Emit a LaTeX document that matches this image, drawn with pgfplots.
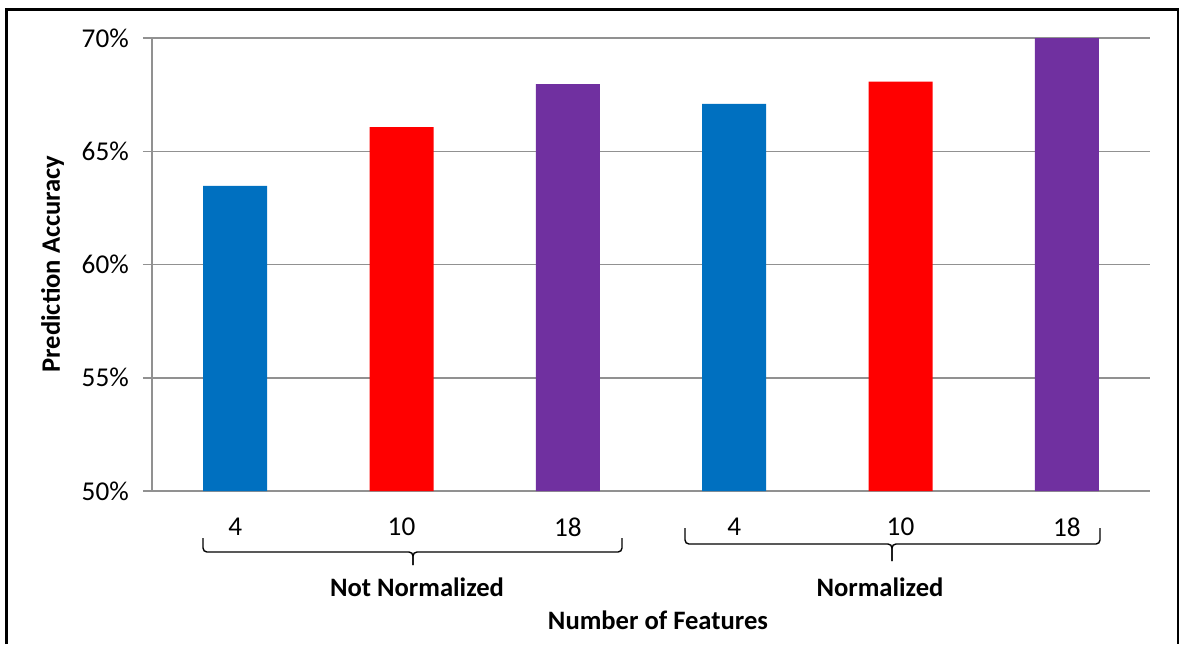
\documentclass[border=0pt]{standalone}
\usepackage{pgfplots}
\pgfplotsset{compat=1.18}
\usepackage{fontspec}
\setmainfont{Carlito}
\definecolor{barblue}{RGB}{0,112,192}
\definecolor{barred}{RGB}{255,0,0}
\definecolor{barpurple}{RGB}{112,48,160}
\definecolor{gridgray}{RGB}{145,145,145}
\begin{document}
\begin{tikzpicture}
\fontsize{13.3pt}{16pt}\selectfont
\path[use as bounding box] (0,0) rectangle (589.5pt,-322pt);
\begin{axis}[
  at={(76pt,-245.5pt)}, anchor=south west,
  width=499pt, height=226.5pt, scale only axis,
  xmin=-0.5, xmax=5.5, ymin=50, ymax=70,
  axis x line*=bottom, axis y line*=left,
  axis line style={gridgray, line width=0.75pt, -},
  ytick={50,55,60,65,70},
  yticklabel={\pgfmathprintnumber{\tick}\%},
  ymajorgrids, grid style={gridgray, line width=0.75pt},
  tick align=outside, major tick length=4.5pt,
  ytick style={gridgray, line width=0.75pt},
  xtick={0,1,2,3,4,5}, xticklabels={4,10,18,4,10,18},
  xtick style={draw=none},
  tick label style={font=\fontsize{13.6pt}{16pt}\selectfont},
  xticklabel style={anchor=center, yshift=-13.5pt},
  yticklabel style={anchor=east, xshift=-2.5pt},
  /pgf/number format/assume math mode=true,
  clip=false,
]
\addplot[ybar, bar shift=0pt, bar width=32pt, fill=barblue, draw=none]
  coordinates {(0,63.47) (3,67.09)};
\addplot[ybar, bar shift=0pt, bar width=32pt, fill=barred, draw=none]
  coordinates {(1,66.07) (4,68.07)};
\addplot[ybar, bar shift=0pt, bar width=32pt, fill=barpurple, draw=none]
  coordinates {(2,67.96) (5,70.0)};
\end{axis}
\begin{scope}[x=0.5pt, y=-0.5pt]
  % outer frame (open at the bottom)
  \draw[line width=1.5pt] (6.5,644) -- (6.5,9.5) -- (1178,9.5) -- (1178,644);
  % group brackets
  \draw[line width=0.7pt, rounded corners=2pt] (203,538) -- (203,552) -- (413,552) -- (413,565);
  \draw[line width=0.7pt, rounded corners=2pt] (413,565) -- (413,552) -- (622,552) -- (622,538);
  \draw[line width=0.7pt, rounded corners=2pt] (685,528) -- (685,544) -- (892,544) -- (892,561);
  \draw[line width=0.7pt, rounded corners=2pt] (892,561) -- (892,544) -- (1100,544) -- (1100,528);
  \node[font=\bfseries] at (417,587) {Not Normalized};
  \node[font=\bfseries] at (880,587) {Normalized};
  \node[font=\bfseries] at (658,620) {Number of Features};
  \node[font=\bfseries, rotate=90] at (52.5,264) {Prediction Accuracy};
\end{scope}
\end{tikzpicture}
\end{document}
